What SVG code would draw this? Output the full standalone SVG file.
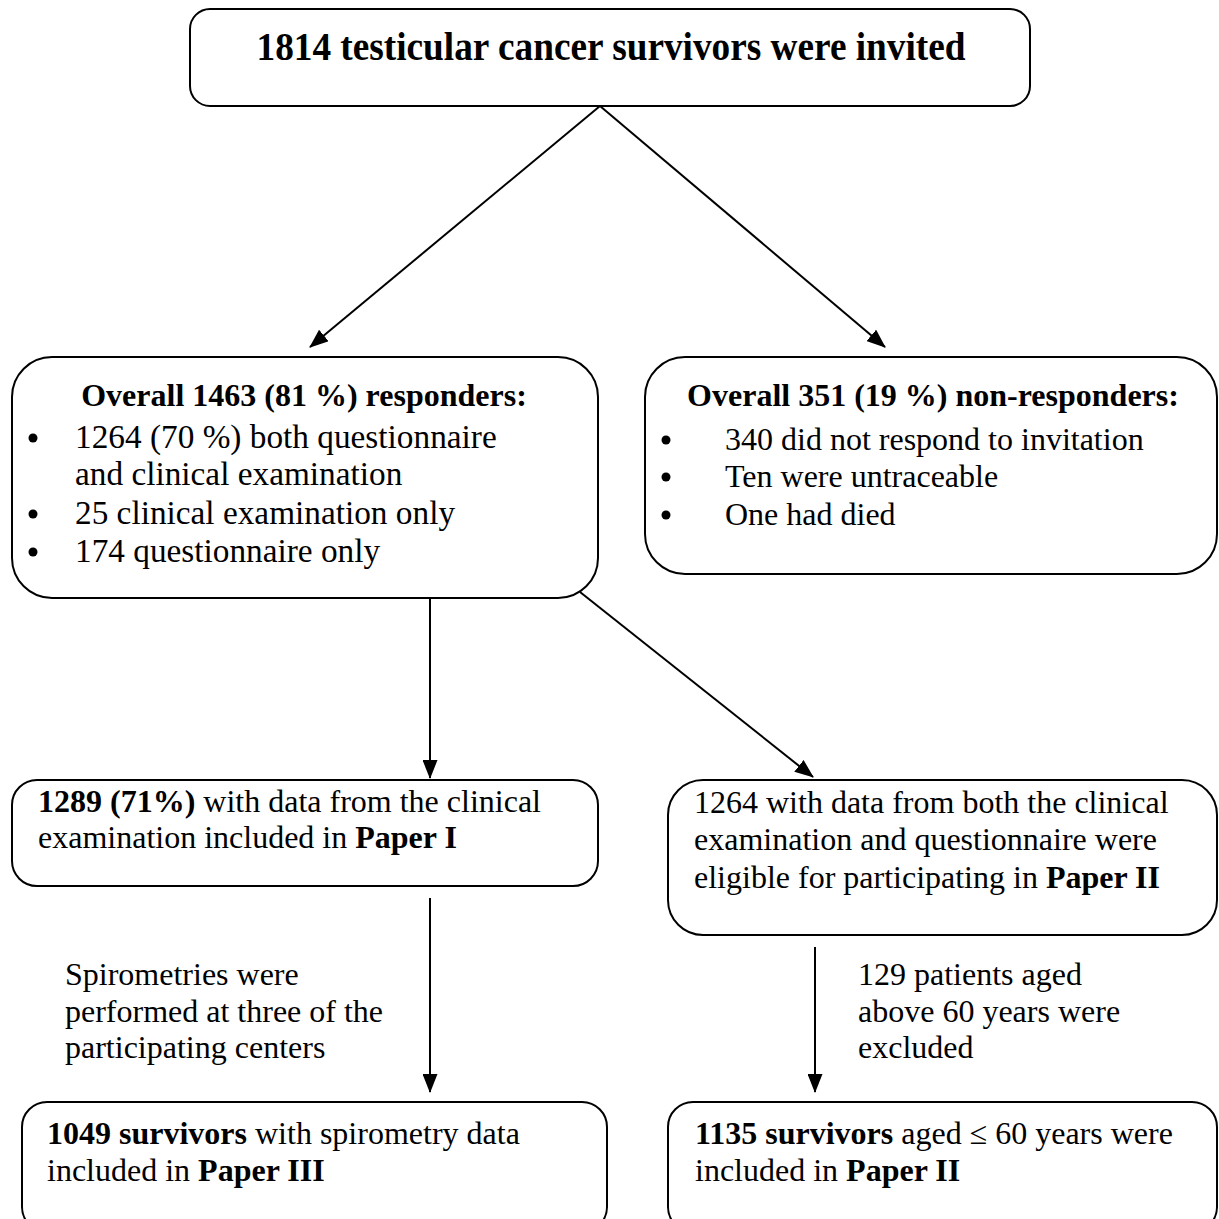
<svg xmlns="http://www.w3.org/2000/svg" width="1219" height="1219" viewBox="0 0 1219 1219">
<defs>
<style>
.box{fill:#fff;stroke:#000;stroke-width:2}
.t{font-family:"Liberation Serif","Times New Roman",serif;font-size:32px;fill:#000}
.b{font-weight:bold}
.l{font-size:33.3px}
.c{stroke:#000;stroke-width:2;fill:none;marker-end:url(#ah)}
</style>
<marker id="ah" viewBox="0 0 19 15" refX="18" refY="7.5" markerWidth="19" markerHeight="15" markerUnits="userSpaceOnUse" orient="auto">
<path d="M0,0 L19,7.5 L0,15 Z" fill="#000"/>
</marker>
</defs>
<rect width="1219" height="1219" fill="#fff"/>
<g id="connectors">
<line class="c" x1="600" y1="106" x2="310" y2="347"/>
<line class="c" x1="600" y1="106" x2="885" y2="347"/>
<line class="c" x1="430" y1="598" x2="430" y2="778"/>
<line class="c" x1="580" y1="592" x2="813" y2="777"/>
<line class="c" x1="430" y1="898" x2="430" y2="1092"/>
<line class="c" x1="815" y1="947" x2="815" y2="1092"/>
</g>
<g id="n-invited">
<rect class="box" x="190" y="9" width="840" height="97" rx="20"/>
<text class="t b" x="611" y="60" text-anchor="middle" style="font-size:39px" textLength="709" lengthAdjust="spacingAndGlyphs">1814 testicular cancer survivors were invited</text>
</g>
<g id="n-responders">
<rect class="box" x="12" y="357" width="586" height="241" rx="40"/>
<text class="t b" x="304" y="406" text-anchor="middle">Overall 1463 (81 %) responders:</text>
<circle cx="33" cy="438" r="4.5"/>
<text class="t l" x="75" y="448">1264 (70 %) both questionnaire</text>
<text class="t l" x="75" y="485">and clinical examination</text>
<circle cx="33" cy="514" r="4.5"/>
<text class="t l" x="75" y="524">25 clinical examination only</text>
<circle cx="33" cy="552" r="4.5"/>
<text class="t l" x="75" y="562">174 questionnaire only</text>
</g>
<g id="n-nonresponders">
<rect class="box" x="645" y="357" width="572" height="217" rx="40"/>
<text class="t b" x="933" y="406" text-anchor="middle">Overall 351 (19 %) non-responders:</text>
<circle cx="666" cy="440" r="4.5"/>
<text class="t" x="725" y="450">340 did not respond to invitation</text>
<circle cx="666" cy="477" r="4.5"/>
<text class="t" x="725" y="487">Ten were untraceable</text>
<circle cx="666" cy="515" r="4.5"/>
<text class="t" x="725" y="525">One had died</text>
</g>
<g id="n-paper1">
<rect class="box" x="12" y="780" width="586" height="106" rx="25"/>
<text class="t" x="38" y="812"><tspan class="b">1289 (71%)</tspan> with data from the clinical</text>
<text class="t" x="38" y="848">examination included in <tspan class="b">Paper I</tspan></text>
</g>
<g id="n-eligible2">
<rect class="box" x="668" y="780" width="549" height="155" rx="35"/>
<text class="t" x="694" y="813">1264 with data from both the clinical</text>
<text class="t" x="694" y="850">examination and questionnaire were</text>
<text class="t" x="694" y="888">eligible for participating in <tspan class="b">Paper II</tspan></text>
</g>
<g id="l-spiro">
<text class="t" x="65" y="985">Spirometries were</text>
<text class="t" x="65" y="1022">performed at three of the</text>
<text class="t" x="65" y="1058">participating centers</text>
</g>
<g id="l-excluded">
<text class="t" x="858" y="985">129 patients aged</text>
<text class="t" x="858" y="1022">above 60 years were</text>
<text class="t" x="858" y="1058">excluded</text>
</g>
<g id="n-paper3">
<rect class="box" x="22" y="1102" width="585" height="130" rx="25"/>
<text class="t" x="47" y="1144"><tspan class="b">1049 survivors</tspan> with spirometry data</text>
<text class="t" x="47" y="1181">included in <tspan class="b">Paper III</tspan></text>
</g>
<g id="n-paper2">
<rect class="box" x="668" y="1102" width="549" height="130" rx="25"/>
<text class="t" x="695" y="1144"><tspan class="b">1135 survivors</tspan> aged ≤ 60 years were</text>
<text class="t" x="695" y="1181">included in <tspan class="b">Paper II</tspan></text>
</g>
</svg>
